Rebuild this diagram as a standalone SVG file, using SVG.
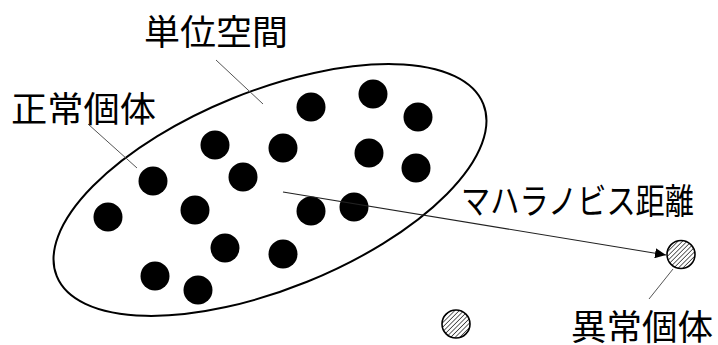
<svg xmlns="http://www.w3.org/2000/svg" width="718" height="345" viewBox="0 0 718 345">
<style>
.lbl{font-family:"Noto Sans CJK JP","Noto Sans CJK SC",sans-serif;font-size:35px;fill:#000}
.dot{fill:#000}
.hat{fill:url(#hatch);stroke:#000;stroke-width:1.6}
.lead{stroke:#555;stroke-width:1;fill:none}
.arr{stroke:#222;stroke-width:1.2;fill:none}
</style>
<defs>
<pattern id="hatch" patternUnits="userSpaceOnUse" width="3.2" height="3.2" patternTransform="rotate(45)">
<rect width="3.2" height="3.2" fill="#fff"/>
<line x1="0" y1="0" x2="0" y2="3.2" stroke="#000" stroke-width="1.2"/>
</pattern>
<marker id="ah" markerWidth="12" markerHeight="10" refX="11" refY="5" orient="auto" markerUnits="userSpaceOnUse">
<path d="M0,0 L11,5 L0,10 Z" fill="#000"/>
</marker>
</defs>
<rect width="718" height="345" fill="#fff"/>
<g id="space">
<ellipse cx="270" cy="190" rx="230" ry="99" transform="rotate(-22 270 190)" fill="none" stroke="#000" stroke-width="2"/>
</g>
<g id="normal-dots">
<circle class="dot" cx="311" cy="107" r="14.5"/>
<circle class="dot" cx="373" cy="94" r="14.5"/>
<circle class="dot" cx="418" cy="117" r="14.5"/>
<circle class="dot" cx="215" cy="145" r="14.5"/>
<circle class="dot" cx="283" cy="148" r="14.5"/>
<circle class="dot" cx="369" cy="153" r="14.5"/>
<circle class="dot" cx="416" cy="168" r="14.5"/>
<circle class="dot" cx="153" cy="181" r="14.5"/>
<circle class="dot" cx="243" cy="177" r="14.5"/>
<circle class="dot" cx="108" cy="217" r="14.5"/>
<circle class="dot" cx="195" cy="210" r="14.5"/>
<circle class="dot" cx="311" cy="211" r="14.5"/>
<circle class="dot" cx="354" cy="207" r="14.5"/>
<circle class="dot" cx="225" cy="248" r="14.5"/>
<circle class="dot" cx="283" cy="254" r="14.5"/>
<circle class="dot" cx="155" cy="276" r="14.5"/>
<circle class="dot" cx="198" cy="290" r="14.5"/>
</g>
<g id="anomaly1"><circle class="hat" cx="681" cy="254.5" r="14"/></g>
<g id="anomaly2"><circle class="hat" cx="456" cy="324" r="14"/></g>
<g id="connectors">
<line class="arr" x1="283" y1="192" x2="666" y2="255" marker-end="url(#ah)"/>
<line class="lead" x1="216" y1="60" x2="263" y2="104"/>
<line class="lead" x1="88" y1="124" x2="137" y2="168"/>
<line class="lead" x1="673" y1="269" x2="649" y2="299"/>
</g>
<g id="label-space"><text class="lbl" x="144" y="45" textLength="144" lengthAdjust="spacingAndGlyphs">単位空間</text></g>
<g id="label-normal"><text class="lbl" x="11" y="122" textLength="145" lengthAdjust="spacingAndGlyphs">正常個体</text></g>
<g id="label-distance"><text class="lbl" x="461" y="214" textLength="233" lengthAdjust="spacingAndGlyphs">マハラノビス距離</text></g>
<g id="label-anomaly"><text class="lbl" x="571" y="340" textLength="142" lengthAdjust="spacingAndGlyphs">異常個体</text></g>
</svg>
